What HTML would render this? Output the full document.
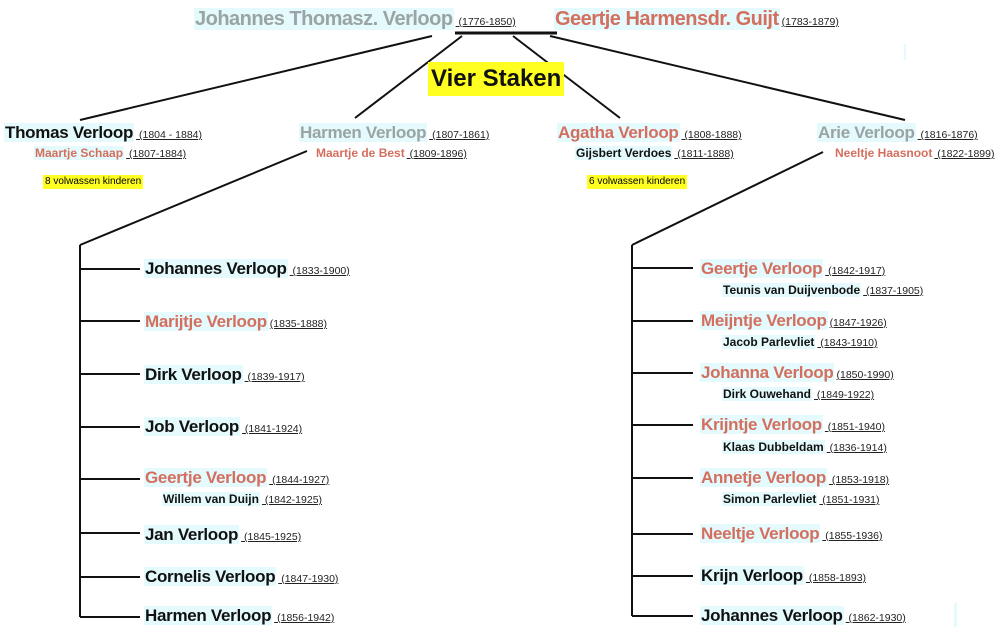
<!DOCTYPE html>
<html><head><meta charset="utf-8"><style>
body{margin:0;width:1000px;height:634px;background:#fff;position:relative;overflow:hidden;font-family:"Liberation Sans",sans-serif;font-weight:bold}
.e{position:absolute;white-space:nowrap;height:22px;line-height:22px}
.n{background:#e4fafc;padding:0 1px}
.d{font-size:10.5px;font-weight:normal;text-decoration:underline;color:#222;margin-left:2px}
.c{font-size:17px;letter-spacing:-0.3px}
.s{font-size:12px}
.g{color:#9aa4a4}.r{color:#d36f5f}.k{color:#111}
.y{position:absolute;background:#ffff22;font-size:10px;font-weight:normal;padding:0 2px;line-height:14px}
svg{position:absolute;left:0;top:0}
</style></head><body>
<svg width="1000" height="634">
<g stroke="#111" stroke-width="2" fill="none">
<line x1="455" y1="33" x2="557" y2="33" stroke-width="3"/>
<line x1="432" y1="36" x2="80" y2="120"/>
<line x1="462" y1="36" x2="355" y2="118"/>
<line x1="513" y1="36" x2="620" y2="118"/>
<line x1="550" y1="36" x2="905" y2="120"/>
<line x1="307" y1="151" x2="80" y2="245"/>
<line x1="80" y1="245" x2="80" y2="617"/>
<line x1="80" y1="269" x2="140" y2="269"/>
<line x1="80" y1="321" x2="140" y2="321"/>
<line x1="80" y1="374" x2="140" y2="374"/>
<line x1="80" y1="427" x2="140" y2="427"/>
<line x1="80" y1="479" x2="140" y2="479"/>
<line x1="80" y1="533" x2="140" y2="533"/>
<line x1="80" y1="577" x2="140" y2="577"/>
<line x1="80" y1="617" x2="140" y2="617"/>
<line x1="823" y1="152" x2="632" y2="245"/>
<line x1="632" y1="245" x2="632" y2="616"/>
<line x1="632" y1="268" x2="693" y2="268"/>
<line x1="632" y1="321" x2="693" y2="321"/>
<line x1="632" y1="373" x2="693" y2="373"/>
<line x1="632" y1="425" x2="693" y2="425"/>
<line x1="632" y1="478" x2="693" y2="478"/>
<line x1="632" y1="534" x2="693" y2="534"/>
<line x1="632" y1="576" x2="693" y2="576"/>
<line x1="632" y1="616" x2="693" y2="616"/>
</g>
<rect x="904" y="44" width="2" height="16" fill="#e4fafc"/>
<rect x="954" y="603" width="3" height="24" fill="#e4fafc"/>
</svg>

<div class="e" style="left:194px;top:5px;height:28px;line-height:28px"><span class="n g" style="font-size:20px;letter-spacing:-0.5px">Johannes Thomasz. Verloop</span><span class="d"> (1776-1850)</span></div>
<div class="e" style="left:554px;top:5px;height:28px;line-height:28px"><span class="n r" style="font-size:20px;letter-spacing:-0.5px">Geertje Harmensdr. Guijt</span><span class="d">(1783-1879)</span></div>
<div style="position:absolute;left:428px;top:62px;background:#ffff22;font-size:24px;line-height:34px;padding:0 3px;color:#111">Vier Staken</div>

<div class="e" style="left:4px;top:122px"><span class="n k c">Thomas Verloop</span><span class="d"> (1804 - 1884)</span></div>
<div class="e" style="left:34px;top:142px"><span class="n r s">Maartje Schaap</span><span class="d"> (1807-1884)</span></div>
<div class="y" style="left:43px;top:175px">8 volwassen kinderen</div>

<div class="e" style="left:299px;top:122px"><span class="n g c">Harmen Verloop</span><span class="d"> (1807-1861)</span></div>
<div class="e" style="left:316px;top:142px"><span class="r s">Maartje de Best</span><span class="d"> (1809-1896)</span></div>

<div class="e" style="left:557px;top:122px"><span class="n r c">Agatha Verloop</span><span class="d"> (1808-1888)</span></div>
<div class="e" style="left:575px;top:142px"><span class="n k s">Gijsbert Verdoes</span><span class="d"> (1811-1888)</span></div>
<div class="y" style="left:587px;top:175px">6 volwassen kinderen</div>

<div class="e" style="left:817px;top:122px"><span class="n g c">Arie Verloop</span><span class="d"> (1816-1876)</span></div>
<div class="e" style="left:835px;top:142px"><span class="r s">Neeltje Haasnoot</span><span class="d"> (1822-1899)</span></div>

<div class="e" style="left:144px;top:258px"><span class="n k c">Johannes Verloop</span><span class="d"> (1833-1900)</span></div>
<div class="e" style="left:144px;top:311px"><span class="n r c">Marijtje Verloop</span><span class="d">(1835-1888)</span></div>
<div class="e" style="left:144px;top:364px"><span class="n k c">Dirk Verloop</span><span class="d"> (1839-1917)</span></div>
<div class="e" style="left:144px;top:416px"><span class="n k c">Job Verloop</span><span class="d"> (1841-1924)</span></div>
<div class="e" style="left:144px;top:467px"><span class="n r c">Geertje Verloop</span><span class="d"> (1844-1927)</span></div>
<div class="e" style="left:162px;top:488px"><span class="n k s">Willem van Duijn</span><span class="d"> (1842-1925)</span></div>
<div class="e" style="left:144px;top:524px"><span class="n k c">Jan Verloop</span><span class="d"> (1845-1925)</span></div>
<div class="e" style="left:144px;top:566px"><span class="n k c">Cornelis Verloop</span><span class="d"> (1847-1930)</span></div>
<div class="e" style="left:144px;top:605px"><span class="n k c">Harmen Verloop</span><span class="d"> (1856-1942)</span></div>

<div class="e" style="left:700px;top:258px"><span class="n r c">Geertje Verloop</span><span class="d"> (1842-1917)</span></div>
<div class="e" style="left:722px;top:279px"><span class="n k s">Teunis van Duijvenbode</span><span class="d">  (1837-1905)</span></div>
<div class="e" style="left:700px;top:310px"><span class="n r c">Meijntje Verloop</span><span class="d">(1847-1926)</span></div>
<div class="e" style="left:722px;top:331px"><span class="n k s">Jacob Parlevliet</span><span class="d">  (1843-1910)</span></div>
<div class="e" style="left:700px;top:362px"><span class="n r c">Johanna Verloop</span><span class="d">(1850-1990)</span></div>
<div class="e" style="left:722px;top:383px"><span class="n k s">Dirk Ouwehand</span><span class="d"> (1849-1922)</span></div>
<div class="e" style="left:700px;top:414px"><span class="n r c">Krijntje Verloop</span><span class="d"> (1851-1940)</span></div>
<div class="e" style="left:722px;top:436px"><span class="n k s">Klaas Dubbeldam</span><span class="d"> (1836-1914)</span></div>
<div class="e" style="left:700px;top:467px"><span class="n r c">Annetje Verloop</span><span class="d"> (1853-1918)</span></div>
<div class="e" style="left:722px;top:488px"><span class="n k s">Simon Parlevliet</span><span class="d"> (1851-1931)</span></div>
<div class="e" style="left:700px;top:523px"><span class="n r c">Neeltje Verloop</span><span class="d"> (1855-1936)</span></div>
<div class="e" style="left:700px;top:565px"><span class="n k c">Krijn Verloop</span><span class="d"> (1858-1893)</span></div>
<div class="e" style="left:700px;top:605px"><span class="n k c">Johannes Verloop</span><span class="d"> (1862-1930)</span></div>
</body></html>
